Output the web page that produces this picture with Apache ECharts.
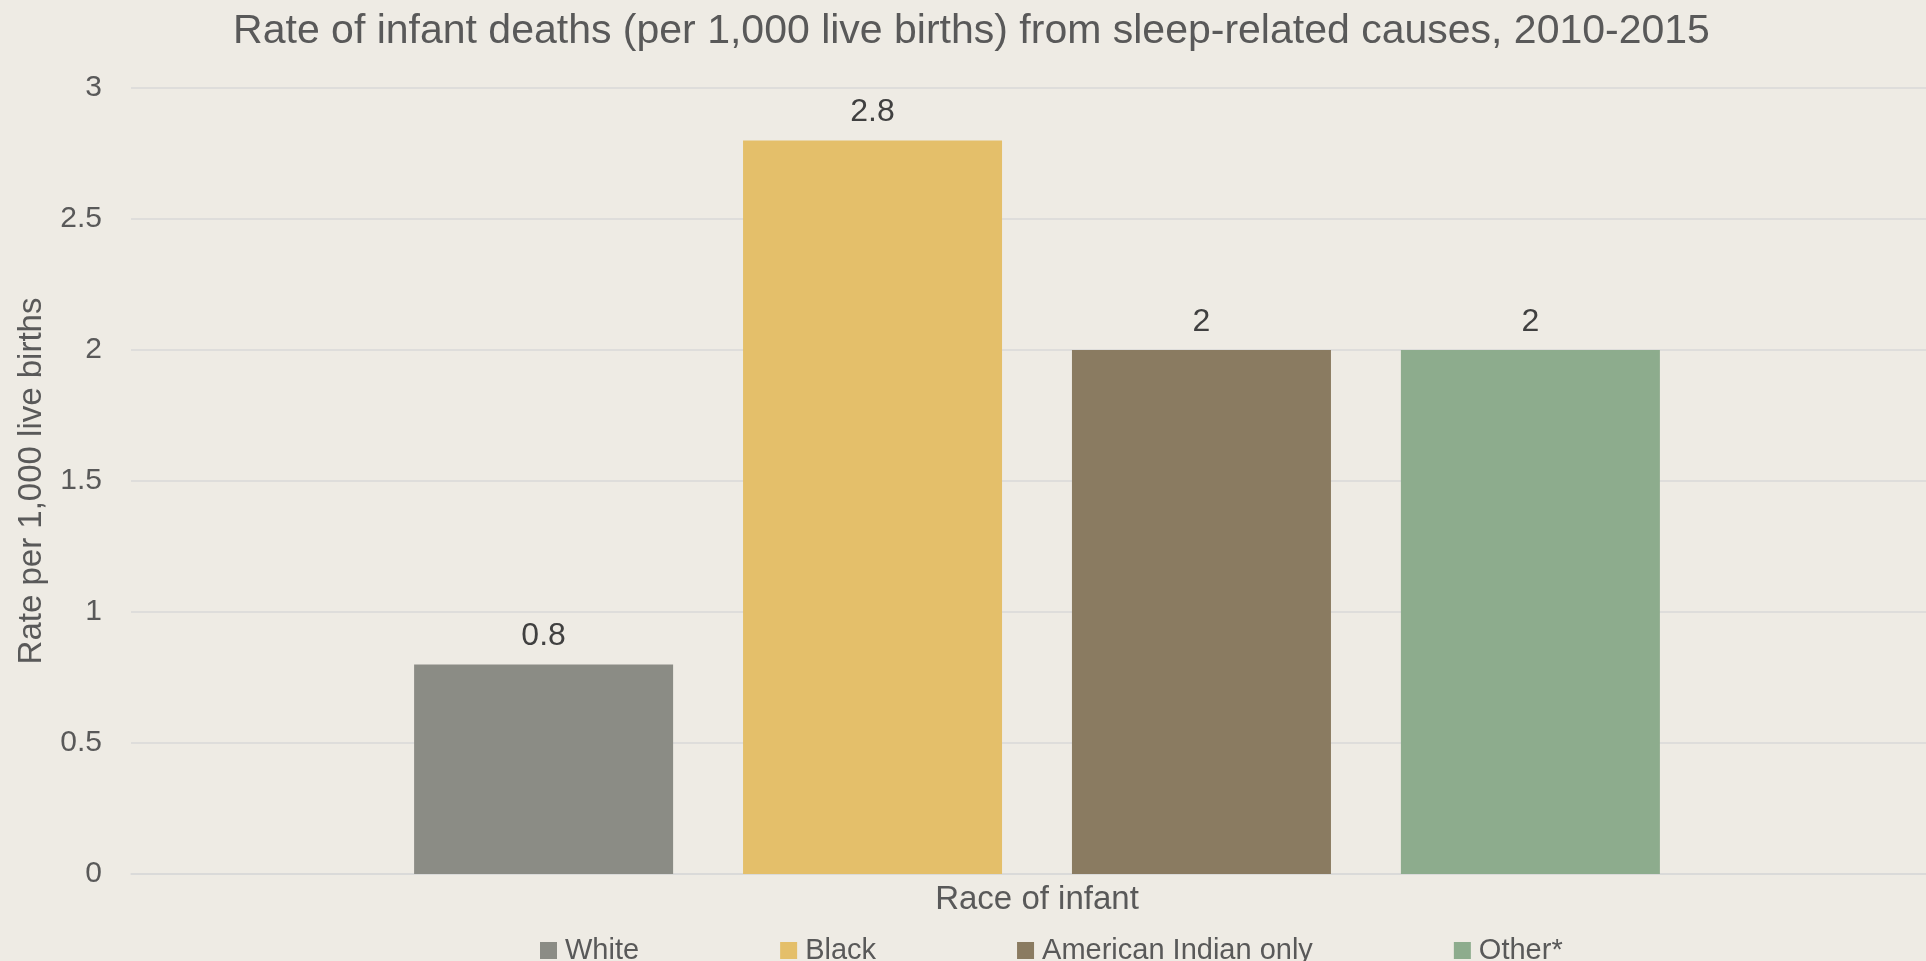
<!DOCTYPE html>
<html>
<head>
<meta charset="utf-8">
<title>Infant sleep-related deaths by race</title>
<script src="https://cdn.jsdelivr.net/npm/echarts@6/dist/echarts.min.js"></script>
<style>
  html, body { margin: 0; padding: 0; background: #EEEBE4; overflow: hidden; }
  /* plot area runs slightly past the right edge of the window */
  #chart { width: 1943px; height: 961px; }
</style>
</head>
<body>
<div id="chart"></div>
<script>
// Single category on the x axis, one bar series per race group
const categories = ['Race of infant'];
const seriesNames = ['White', 'Black', 'American Indian only', 'Other*'];
const rates = [0.8, 2.8, 2, 2];
const colors = ['#8B8C85', '#E4BF6A', '#8A7B61', '#8DAC8D'];
const yTicks = { min: 0, max: 3, step: 0.5 };

const FONT = '"Liberation Sans", Arial, sans-serif';

const chart = echarts.init(document.getElementById('chart'), null, { renderer: 'canvas' });

const series = seriesNames.map((name, i) => ({
  name: name,
  type: 'bar',
  data: [rates[i]],
  barWidth: 259,
  barGap: '27%',
  itemStyle: { color: colors[i] },
  label: {
    show: true,
    position: 'top',
    distance: 12,
    fontFamily: FONT,
    fontSize: 32,
    color: '#404040'
  }
}));

chart.setOption({
  backgroundColor: '#EEEBE4',
  animation: false,
  title: {
    text: 'Rate of infant deaths (per 1,000 live births) from sleep-related causes, 2010-2015',
    left: 'center',
    top: 6,
    textStyle: { fontFamily: FONT, fontSize: 41, fontWeight: 'normal', color: '#595959' }
  },
  legend: {
    data: seriesNames,
    left: 535,
    top: 931,
    itemWidth: 17,
    itemHeight: 17,
    itemGap: 141,
    icon: 'rect',
    textStyle: { fontFamily: FONT, fontSize: 29, color: '#595959', padding: [0, 0, 0, 3] }
  },
  grid: { left: 131, right: 0, top: 88, bottom: 961 - 874, containLabel: false },
  xAxis: {
    type: 'category',
    data: categories,
    axisLine: { show: true, lineStyle: { color: '#D9D9D9', width: 1.5 } },
    axisTick: { show: false },
    axisLabel: { margin: 9, fontFamily: FONT, fontSize: 33, color: '#595959' }
  },
  yAxis: {
    type: 'value',
    min: yTicks.min,
    max: yTicks.max,
    interval: yTicks.step,
    name: 'Rate per 1,000 live births',
    nameLocation: 'middle',
    nameGap: 83,
    nameTextStyle: { fontFamily: FONT, fontSize: 33, color: '#595959' },
    axisLine: { show: false },
    axisTick: { show: false },
    axisLabel: { margin: 29, fontFamily: FONT, fontSize: 30, color: '#595959' },
    splitLine: { lineStyle: { color: '#D9D9D9', width: 1.5 } }
  },
  series: series
});
</script>
</body>
</html>
